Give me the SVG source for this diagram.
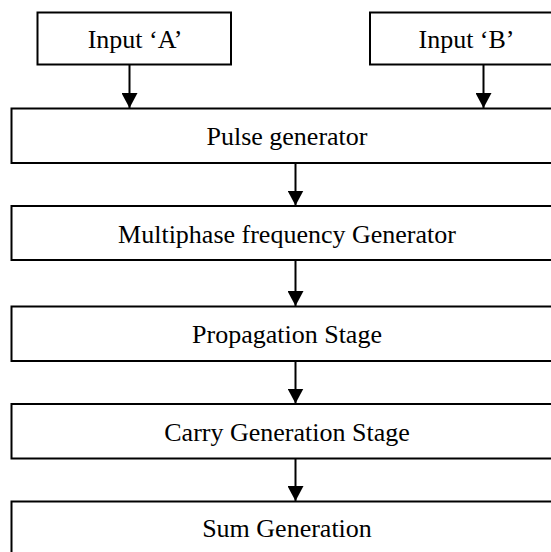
<svg xmlns="http://www.w3.org/2000/svg" width="551" height="552" viewBox="0 0 551 552">
<defs>
<style>
.box{fill:#fff;stroke:#000;stroke-width:2}
.lbl{font-family:"Liberation Serif","Times New Roman",serif;font-size:26px;fill:#000;text-anchor:middle}
.con{stroke:#000;stroke-width:2;fill:none}
</style>
<marker id="arr" markerWidth="15" markerHeight="16" viewBox="0 0 15 16" refX="15" refY="8" orient="auto" markerUnits="userSpaceOnUse">
<path d="M0,0 L15,8 L0,16 Z" fill="#000"/>
</marker>
</defs>
<rect width="551" height="552" fill="#fff"/>
<g id="inputA"><rect class="box" x="37.5" y="12.5" width="193.5" height="52"/><text class="lbl" x="135" y="48">Input ‘A’</text></g>
<g id="inputB"><rect class="box" x="370" y="12.5" width="196" height="52"/><text class="lbl" x="466.5" y="48">Input ‘B’</text></g>
<g id="pulse"><rect class="box" x="11.5" y="108.5" width="556" height="54.5"/><text class="lbl" x="287" y="145">Pulse generator</text></g>
<g id="multiphase"><rect class="box" x="11.5" y="206" width="556" height="54"/><text class="lbl" x="287" y="242.5">Multiphase frequency Generator</text></g>
<g id="propagation"><rect class="box" x="11.5" y="306.5" width="556" height="54.5"/><text class="lbl" x="287" y="343">Propagation Stage</text></g>
<g id="carry"><rect class="box" x="11.5" y="404" width="556" height="54.5"/><text class="lbl" x="287" y="440.5">Carry Generation Stage</text></g>
<g id="sum"><rect class="box" x="11.5" y="501.5" width="556" height="60"/><text class="lbl" x="287" y="537">Sum Generation</text></g>
<g id="connectors">
<line class="con" x1="129.5" y1="64.5" x2="129.5" y2="108" marker-end="url(#arr)"/>
<line class="con" x1="483.5" y1="64.5" x2="483.5" y2="108" marker-end="url(#arr)"/>
<line class="con" x1="295.5" y1="163" x2="295.5" y2="205.5" marker-end="url(#arr)"/>
<line class="con" x1="295.5" y1="260" x2="295.5" y2="306" marker-end="url(#arr)"/>
<line class="con" x1="295.5" y1="361" x2="295.5" y2="403.5" marker-end="url(#arr)"/>
<line class="con" x1="295.5" y1="458.5" x2="295.5" y2="501" marker-end="url(#arr)"/>
</g>
</svg>
